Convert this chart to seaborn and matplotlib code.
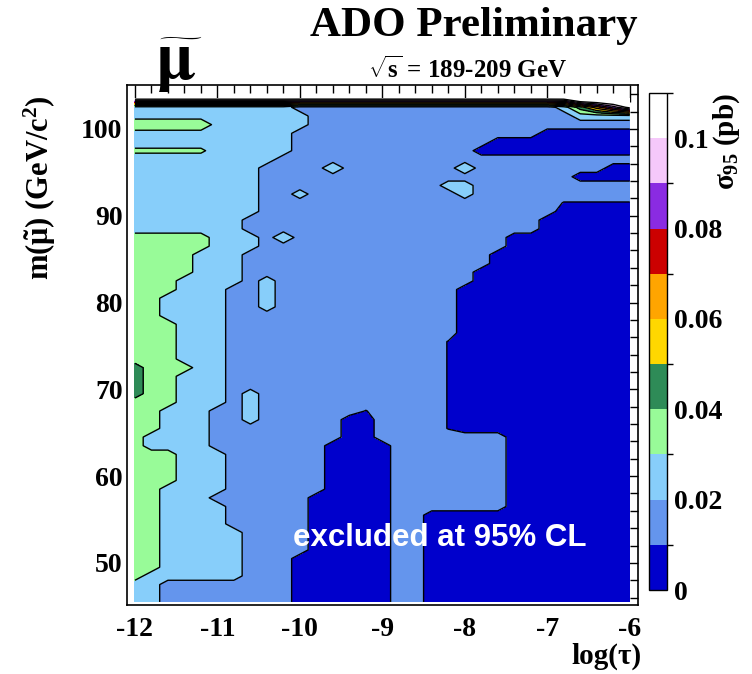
import numpy as np
import matplotlib
matplotlib.use("Agg")
import matplotlib.pyplot as plt
from matplotlib.colors import ListedColormap, BoundaryNorm
from matplotlib.ticker import MultipleLocator, FixedLocator
import seaborn as sns

# scan grid: log(tau) columns and smuon mass rows (GeV/c^2)
log_tau = np.arange(-12.0, -5.99, 0.2)
smuon_mass = np.arange(45.5, 104.0, 1.0)

# sigma_95 (pb) per grid cell, coded by one character
cell_sigma = {
    "0": 0.005, "k": 0.0095, "1": 0.015, "2": 0.025, "m": 0.029,
    "h": 0.032, "3": 0.035, "g": 0.039, "4": 0.045, "6": 0.065,
    "8": 0.085, "a": 0.105, "b": 0.13,
}

# map, top row (103.5) first, bottom row (45.5) last
sigma_map = [
    "aaaaaaaaaaaaaaaaaaaaaaaaaaabbbb",
    "222222222211111111111111112468a",
    "2222222222211111111111111112222",
    "ggggg22222211111111111111111111",
    "2222222222111111111111111000000",
    "2222222222111111111111000000000",
    "hhhhh22222111111111110000000000",
    "2222222221111111111111111111111",
    "222222221111m1111111m1111111100",
    "2222222211111111111111111110000",
    "2222222211111111111221111111111",
    "2222222211211111111121111111111",
    "22222222111111111111111111kkkkk",
    "2222222211111111111111111100000",
    "2222222111111111111111111000000",
    "2222222111111111111111111000000",
    "333332221m111111111111100000000",
    "3333322211111111111111100000000",
    "3333222111111111111111000000000",
    "3333222111111111111111000000000",
    "3333222111111111111110000000000",
    "3332222121111111111110000000000",
    "3332221121111111111100000000000",
    "3322221121111111111100000000000",
    "3322221121111111111100000000000",
    "3322221111111111111100000000000",
    "3332221111111111111100000000000",
    "3332221111111111111100000000000",
    "3332221111111111111k00000000000",
    "3332221111111111111k00000000000",
    "3332221111111111111k00000000000",
    "4333221111111111111k00000000000",
    "4332221111111111111k00000000000",
    "4332221111111111111k00000000000",
    "4332221211111111111k00000000000",
    "3332221211111111111k00000000000",
    "33222112111111k1111k00000000000",
    "3322211211111001111k00000000000",
    "3322211111111001111k00000000000",
    "3222211111111001111111100000000",
    "3222211111110000111111100000000",
    "3332221111110000111111100000000",
    "3332221111110000111111100000000",
    "3332221111110000111111100000000",
    "3332221111110000111111100000000",
    "3322221111110000111111100000000",
    "3322211111100000111111100000000",
    "3322221111100000111111100000000",
    "3322221111100000110000000000000",
    "3322221111100000110000000000000",
    "3322222111100000110000000000000",
    "3322222111100000110000000000000",
    "3322222111100000110000000000000",
    "3322222111000000110000000000000",
    "3322222111000000110000000000000",
    "3222222111000000110000000000000",
    "2211111111000000110000000000000",
    "2211111111000000110000000000000",
    "2211111111000000110000000000000",
]

levels = [0.0, 0.01, 0.02, 0.03, 0.04, 0.05, 0.06, 0.07, 0.08, 0.09, 0.10, 0.11]
level_colors = ["#0000cc", "#6495ed", "#87cefa", "#98fb98", "#2e8b57", "#ffd700",
                "#ffa500", "#cc0000", "#8a2be2", "#f5c8fa", "#ffffff"]
cbar_ticks = [0.0, 0.02, 0.04, 0.06, 0.08, 0.1]
cbar_ticklabels = ["0", "0.02", "0.04", "0.06", "0.08", "0.1"]
x_ticks = [-12, -11, -10, -9, -8, -7, -6]

for row in sigma_map:
    assert len(row) == len(log_tau), row
sigma = np.array([[cell_sigma[ch] for ch in row] for row in sigma_map[::-1]])

sns.set_theme(style="white", rc={"xtick.color": "black", "ytick.color": "black",
                                 "axes.edgecolor": "black", "text.color": "black"})
plt.rcParams["font.family"] = ["Liberation Serif", "DejaVu Serif"]
plt.rcParams["font.weight"] = "bold"
plt.rcParams["mathtext.fontset"] = "custom"
plt.rcParams["mathtext.rm"] = "Liberation Serif:bold"
plt.rcParams["mathtext.it"] = "Liberation Serif:bold"
plt.rcParams["mathtext.bf"] = "Liberation Serif:bold"
plt.rcParams["axes.unicode_minus"] = False

W, H = 752, 674
fig = plt.figure(figsize=(W / 100, H / 100), dpi=100)
ax = fig.add_axes([126.7 / W, 1 - 605 / H, (638 - 126.7) / W, (605 - 85) / H])
cax = fig.add_axes([649 / W, 1 - 590 / H, 18 / W, 497 / H])

cmap = ListedColormap(sns.color_palette(level_colors))
cmap.set_over("white")
norm = BoundaryNorm(levels, cmap.N)
ax.contourf(log_tau, smuon_mass, sigma, levels=levels, cmap=cmap, norm=norm, extend="max")
ax.contour(log_tau, smuon_mass, sigma, levels=levels[1:-1], colors="black", linewidths=1.0)

ax.set_xlim(-12.1, -5.9)
ax.set_ylim(45.15, 105.07)
ax.xaxis.set_major_locator(FixedLocator(x_ticks))
ax.xaxis.set_minor_locator(MultipleLocator(0.2))
ax.yaxis.set_major_locator(MultipleLocator(10))
ax.yaxis.set_minor_locator(MultipleLocator(2))
ax.tick_params(which="both", direction="in", top=True, right=True, width=1.0)
ax.tick_params(which="major", length=12)
ax.tick_params(which="minor", length=6)
ax.tick_params(axis="x", pad=9, labelsize=20)
ax.tick_params(axis="y", pad=3, labelsize=20)
for s in ax.spines.values():
    s.set_linewidth(1.2)

sm = plt.cm.ScalarMappable(norm=BoundaryNorm(levels, cmap.N), cmap=cmap)
cb = fig.colorbar(sm, cax=cax, ticks=cbar_ticks)
cb.ax.set_yticklabels(cbar_ticklabels)
cb.ax.tick_params(length=0, pad=5, labelsize=20)
cb.outline.set_linewidth(1.0)

ax.text(-8.30, 52.9, "excluded at 95% CL", color="white", ha="center", va="center",
        fontsize=22.5, fontweight="bold", family="Liberation Sans")

fig.text(474 / W, 1 - 26 / H, "ADO Preliminary", ha="center", va="center", fontsize=31)
fig.text(468 / W, 1 - 70 / H, r"$\sqrt{s}$ = 189-209 GeV", ha="center", va="center", fontsize=18)
fig.text(179 / W, 1 - 79 / H, r"$\widetilde{\mathrm{\mu}}$", ha="center", va="baseline",
         fontsize=48, fontweight="normal", math_fontfamily="stix")
fig.text(40 / W, 1 - 95 / H, r"m($\tilde{\mu}$) (GeV/c$^{2}$)", rotation=90,
         ha="center", va="top", fontsize=22)
fig.text(641 / W, 1 - 656 / H, "log(τ)", ha="right", va="center", fontsize=21)
fig.text(727 / W, 1 - 93 / H, r"$\sigma_{95}$ (pb)", rotation=90, ha="center", va="top", fontsize=21)

fig.savefig("out.png", dpi=100)
